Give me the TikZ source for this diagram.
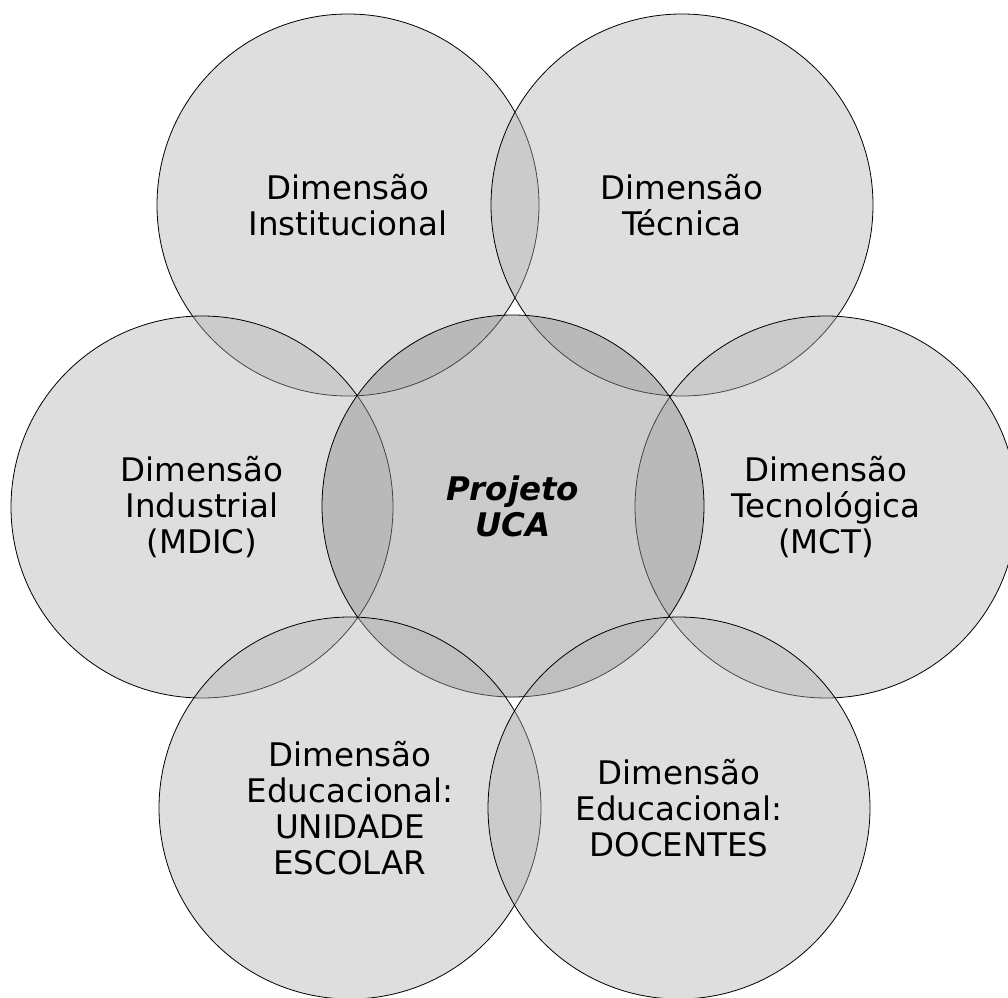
\documentclass[tikz,border=0pt]{standalone}
\usepackage{fontspec}
\setmainfont{DejaVu Sans}
\usepackage{xcolor}
\usepackage{tikz}
\definecolor{dimgray}{gray}{0.69}
\definecolor{ucagray}{gray}{0.57}
\tikzstyle{dimcircle} = [circle,draw=black,line width=0.8pt,fill=dimgray,fill opacity=0.41,text opacity=1,minimum size=382pt,inner sep=0pt,align=center,font=\fontsize{32.5}{36}\selectfont]
\tikzstyle{ucacircle} = [dimcircle,fill=ucagray,fill opacity=0.47]

\begin{document}
\begin{tikzpicture}[x=1pt,y=1pt]
	\clip (0,0) rectangle (1008,997);
	
	% Outer circles first, the centre one over them, the two lower ones last:
	\node [dimcircle] (inst) at (348,792) {Dimensão\\Institucional};
	\node [dimcircle] (tec) at (682,792) {Dimensão\\Técnica};
	\node [dimcircle] (ind) at (202,490) {Dimensão\\Industrial\\(MDIC)};
	\node [dimcircle] (tecno) at (826,490) {Dimensão\\Tecnológica\\(MCT)};
	\node [ucacircle] (uca) at (513,491) {\textbf{\textit{Projeto}}\\\textbf{\textit{UCA}}};
	\node [dimcircle] (escola) at (350,189) {Dimensão\\Educacional:\\UNIDADE\\ESCOLAR};
	\node [dimcircle] (docente) at (679,189) {Dimensão\\Educacional:\\DOCENTES};
	
\end{tikzpicture}
\end{document}
